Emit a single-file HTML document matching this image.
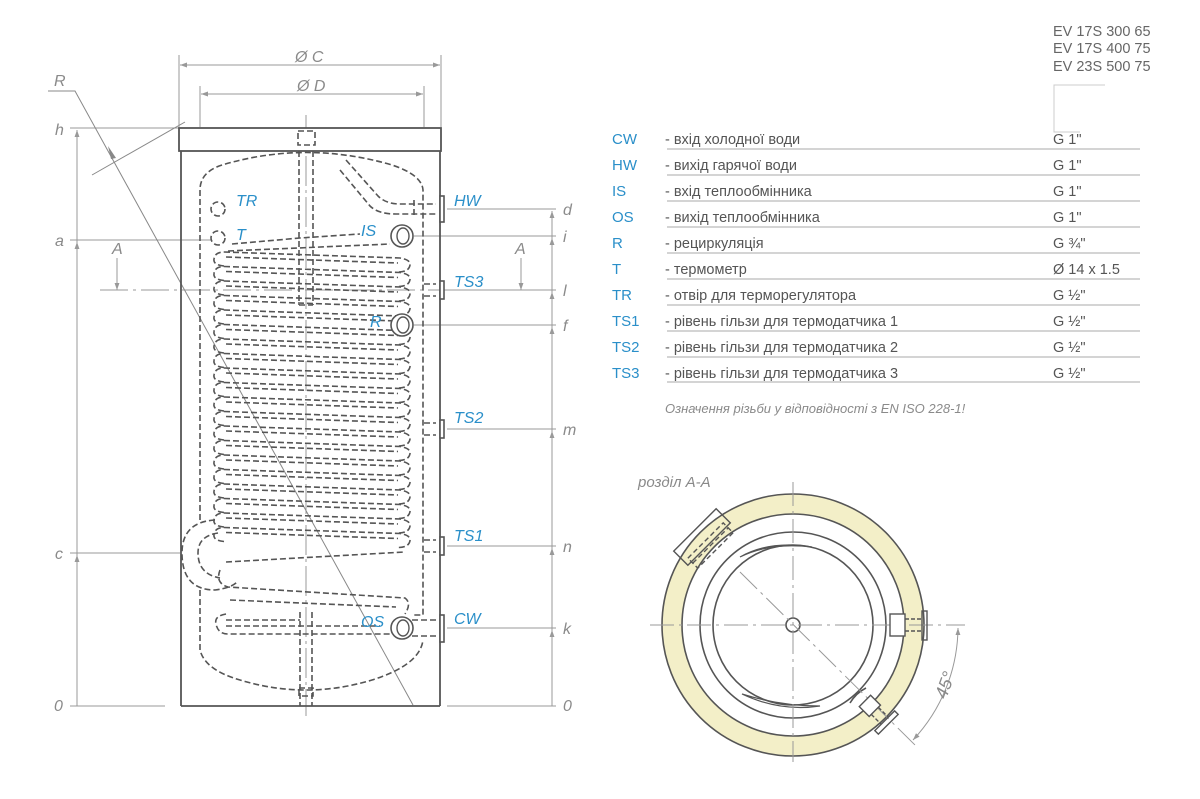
<!DOCTYPE html>
<html><head><meta charset="utf-8"><style>
html,body{margin:0;padding:0;background:#fff;}
svg{display:block;}
.it{font-family:"Liberation Sans",sans-serif;font-style:italic;fill:#8a8a8a;}
.bl{font-family:"Liberation Sans",sans-serif;font-style:italic;fill:#2a8fc9;font-size:16px;}
.tb{font-family:"Liberation Sans","DejaVu Sans",sans-serif;font-size:14.5px;fill:#555;}
.tl{font-family:"Liberation Sans",sans-serif;font-size:15px;fill:#2a8fc9;}
</style></head><body>
<svg width="1200" height="799" viewBox="0 0 1200 799" xmlns="http://www.w3.org/2000/svg">
<defs>
<marker id="ar" viewBox="0 0 10 10" refX="10" refY="5" markerWidth="11" markerHeight="7" orient="auto-start-reverse" markerUnits="userSpaceOnUse"><path d="M0,1.5 L10,5 L0,8.5z" fill="#999"/></marker>
<g id="turn" fill="none" stroke="#555" stroke-width="1.6" stroke-dasharray="6 3">
<path d="M224 0 L400 6 Q411 8 410 13 Q409 20 398 20"/>
<path d="M226 5 L398 11"/>
<path d="M224 14 Q213 13 214 7 Q215 0 224 0"/>
</g>
</defs>

<g stroke="#999" stroke-width="1" fill="none">
<line x1="179" y1="55" x2="179" y2="127"/><line x1="441" y1="55" x2="441" y2="127"/>
<line x1="200" y1="86" x2="200" y2="127"/><line x1="424" y1="86" x2="424" y2="127"/>
<line x1="180" y1="65" x2="440" y2="65" marker-start="url(#ar)" marker-end="url(#ar)"/>
<line x1="201" y1="94" x2="423" y2="94" marker-start="url(#ar)" marker-end="url(#ar)"/>
<line x1="70" y1="128" x2="179" y2="128"/>
<line x1="70" y1="240" x2="212" y2="240"/>
<line x1="70" y1="553" x2="180" y2="553"/>
<line x1="70" y1="706" x2="165" y2="706"/>
<line x1="77" y1="706" x2="77" y2="130" marker-end="url(#ar)"/>
<line x1="77" y1="706" x2="77" y2="242" marker-end="url(#ar)"/>
<line x1="77" y1="706" x2="77" y2="555" marker-end="url(#ar)"/>
<line x1="447" y1="209" x2="556" y2="209"/>
<line x1="414" y1="236" x2="556" y2="236"/>
<line x1="447" y1="290" x2="556" y2="290"/>
<line x1="414" y1="325" x2="556" y2="325"/>
<line x1="447" y1="429" x2="556" y2="429"/>
<line x1="447" y1="546" x2="556" y2="546"/>
<line x1="447" y1="628" x2="556" y2="628"/>
<line x1="447" y1="706" x2="556" y2="706"/>
<line x1="552" y1="706" x2="552" y2="211" marker-end="url(#ar)"/>
<line x1="552" y1="706" x2="552" y2="238" marker-end="url(#ar)"/>
<line x1="552" y1="706" x2="552" y2="292" marker-end="url(#ar)"/>
<line x1="552" y1="706" x2="552" y2="327" marker-end="url(#ar)"/>
<line x1="552" y1="706" x2="552" y2="431" marker-end="url(#ar)"/>
<line x1="552" y1="706" x2="552" y2="548" marker-end="url(#ar)"/>
<line x1="552" y1="706" x2="552" y2="630" marker-end="url(#ar)"/>
<line x1="100" y1="290" x2="530" y2="290" stroke-dasharray="28 5 3 5"/>
<line x1="117" y1="258" x2="117" y2="290" marker-end="url(#ar)"/>
<line x1="521" y1="258" x2="521" y2="290" marker-end="url(#ar)"/>
<line x1="306" y1="115" x2="306" y2="716" stroke-dasharray="30 4 3 4"/>
<polyline points="48,91 75,91 413,705" stroke="#888"/>
<line x1="92" y1="175" x2="185" y2="122" stroke="#888"/>
</g>
<path d="M108,146 L116,158 L111,159z" fill="#888"/>

<g stroke="#555" stroke-width="1.8" fill="none">
<rect x="179" y="128" width="262" height="23" fill="#fff"/>
<line x1="181" y1="151" x2="181" y2="706"/>
<line x1="440" y1="151" x2="440" y2="706"/>
<line x1="181" y1="706" x2="440" y2="706"/>
</g>
<g stroke="#555" stroke-width="1.6" fill="none" stroke-dasharray="6 3">
<path d="M200,520 L200,190 Q200,172 222,165 Q306,140 392,165 Q422,175 423,190 L423,615 L412,615"/>
<path d="M200,590 L200,650 Q205,670 240,680 Q306,700 372,680 Q420,665 423,640"/>
<rect x="298" y="131" width="17" height="14"/>
<line x1="299" y1="151" x2="299" y2="305"/><line x1="313" y1="151" x2="313" y2="305"/>
<line x1="299" y1="305" x2="313" y2="305"/>
<line x1="300" y1="612" x2="300" y2="706"/><line x1="312" y1="612" x2="312" y2="706"/>
<rect x="299" y="688" width="14" height="8"/>
<path d="M346,160 L378,196 Q386,204 400,204 L436,204"/>
<path d="M340,170 L370,206 Q378,214 396,214 L436,214"/>
<line x1="414" y1="200" x2="414" y2="218"/>
<path d="M424,284 L436,284 M424,296 L436,296"/>
<path d="M424,423 L436,423 M424,435 L436,435"/>
<path d="M424,540 L436,540 M424,552 L436,552"/>
<path d="M412,620 L436,620 M412,636 L436,636"/>
<circle cx="218" cy="209" r="7"/><circle cx="218" cy="238" r="7"/>
<path d="M232,244 L300,238 L360,234"/>
<path d="M228,251 L390,244"/>
<path d="M215,520 Q182,522 182,553 Q182,590 215,590 Q232,588 238,581"/>
<path d="M218,533 Q198,536 198,553 Q198,574 220,578"/>
<path d="M226,562 L405,552"/>
<path d="M220,570 Q215,583 228,587 L405,598 Q412,603 405,614"/>
<path d="M230,600 L396,607"/>
<path d="M226,614 Q214,616 216,624 Q218,634 228,634 L390,634"/>
<path d="M226,620 L300,620"/><path d="M226,626 L380,626"/>
</g>
<g>
<use href="#turn" y="252"/><use href="#turn" y="266.5"/><use href="#turn" y="281"/><use href="#turn" y="295.5"/>
<use href="#turn" y="310"/><use href="#turn" y="324.5"/><use href="#turn" y="339"/><use href="#turn" y="353.5"/>
<use href="#turn" y="368"/><use href="#turn" y="382.5"/><use href="#turn" y="397"/><use href="#turn" y="411.5"/>
<use href="#turn" y="426"/><use href="#turn" y="440.5"/><use href="#turn" y="455"/><use href="#turn" y="469.5"/>
<use href="#turn" y="484"/><use href="#turn" y="498.5"/><use href="#turn" y="513"/><use href="#turn" y="527.5"/>
</g>
<g stroke="#555" stroke-width="1.6" fill="#fff">
<rect x="440" y="196" width="4" height="26"/>
<rect x="440" y="281" width="4" height="18"/>
<rect x="440" y="420" width="4" height="18"/>
<rect x="440" y="537" width="4" height="18"/>
<rect x="440" y="615" width="4" height="27"/>
<circle cx="402" cy="236" r="11"/><circle cx="402" cy="325" r="11"/><circle cx="402" cy="628" r="11"/>
</g>
<g stroke="#555" stroke-width="1.4" fill="none">
<ellipse cx="403" cy="236" rx="6" ry="8"/><ellipse cx="403" cy="325" rx="6" ry="8"/><ellipse cx="403" cy="628" rx="6" ry="8"/>
</g>

<g class="it" font-size="16">
<text x="295" y="62">Ø C</text><text x="297" y="91">Ø D</text>
<text x="54" y="86">R</text><text x="55" y="135">h</text><text x="55" y="246">a</text><text x="55" y="559">c</text><text x="54" y="711">0</text>
<text x="112" y="254">A</text><text x="515" y="254">A</text>
<text x="563" y="215">d</text><text x="563" y="242">i</text><text x="563" y="296">l</text><text x="563" y="331">f</text>
<text x="563" y="435">m</text><text x="563" y="552">n</text><text x="563" y="634">k</text><text x="563" y="711">0</text>
</g>
<g class="bl">
<text x="236" y="206">TR</text><text x="236" y="240">T</text><text x="361" y="236">IS</text><text x="370" y="327">R</text>
<text x="361" y="627">OS</text><text x="454" y="206">HW</text><text x="454" y="287">TS3</text><text x="454" y="423">TS2</text>
<text x="454" y="541">TS1</text><text x="454" y="624">CW</text>
</g>

<g class="tb" font-size="13.5" style="fill:#666">
<text x="1053" y="36">EV 17S 300 65</text><text x="1053" y="53">EV 17S 400 75</text><text x="1053" y="71">EV 23S 500 75</text>
</g>
<polyline points="1105,85 1054,85 1054,132 1080,132" fill="none" stroke="#ccc" stroke-width="1"/>
<g stroke="#aaa" stroke-width="1">
<line x1="667" y1="149" x2="1140" y2="149"/><line x1="667" y1="175" x2="1140" y2="175"/>
<line x1="667" y1="201" x2="1140" y2="201"/><line x1="667" y1="227" x2="1140" y2="227"/>
<line x1="667" y1="253" x2="1140" y2="253"/><line x1="667" y1="279" x2="1140" y2="279"/>
<line x1="667" y1="305" x2="1140" y2="305"/><line x1="667" y1="331" x2="1140" y2="331"/>
<line x1="667" y1="357" x2="1140" y2="357"/><line x1="667" y1="382" x2="1140" y2="382"/>
</g>
<g class="tl">
<text x="612" y="144">CW</text><text x="612" y="170">HW</text><text x="612" y="196">IS</text><text x="612" y="222">OS</text>
<text x="612" y="248">R</text><text x="612" y="274">T</text><text x="612" y="300">TR</text><text x="612" y="326">TS1</text>
<text x="612" y="352">TS2</text><text x="612" y="378">TS3</text>
</g>
<g class="tb">
<text x="665" y="144">- вхід холодної води</text><text x="665" y="170">- вихід гарячої води</text>
<text x="665" y="196">- вхід теплообмінника</text><text x="665" y="222">- вихід теплообмінника</text>
<text x="665" y="248">- рециркуляція</text><text x="665" y="274">- термометр</text>
<text x="665" y="300">- отвір для терморегулятора</text><text x="665" y="326">- рівень гільзи для термодатчика 1</text>
<text x="665" y="352">- рівень гільзи для термодатчика 2</text><text x="665" y="378">- рівень гільзи для термодатчика 3</text>
<text x="1053" y="144">G 1"</text><text x="1053" y="170">G 1"</text><text x="1053" y="196">G 1"</text><text x="1053" y="222">G 1"</text>
<text x="1053" y="248">G ¾"</text><text x="1053" y="274">Ø 14 x 1.5</text><text x="1053" y="300">G ½"</text>
<text x="1053" y="326">G ½"</text><text x="1053" y="352">G ½"</text><text x="1053" y="378">G ½"</text>
</g>
<text x="665" y="413" class="it" font-size="13">Означення різьби у відповідності з EN ISO 228-1!</text>

<text x="638" y="487" class="it" font-size="15">розділ A-A</text>
<g stroke="#555" stroke-width="1.6">
<path fill="#f3efc8" fill-rule="evenodd" d="M662,625 a131,131 0 1,0 262,0 a131,131 0 1,0 -262,0z M682,625 a111,111 0 1,1 222,0 a111,111 0 1,1 -222,0z"/>
<circle cx="793" cy="625" r="93" fill="none"/>
<circle cx="793" cy="625" r="80" fill="none"/>
<circle cx="793" cy="625" r="7" fill="none"/>
<path d="M740,557 Q770,540 812,547 Q770,542 740,557z" fill="none" stroke-width="1.2"/>
<path d="M742,694 Q780,712 820,706 Q780,706 742,694z" fill="none" stroke-width="1.2"/>
<path d="M850,703 Q856,693 866,688" fill="none"/>
</g>
<g stroke="#999" stroke-width="1" fill="none">
<line x1="650" y1="625" x2="965" y2="625" stroke-dasharray="24 5 3 5"/>
<line x1="793" y1="482" x2="793" y2="762" stroke-dasharray="24 5 3 5"/>
<line x1="740" y1="572" x2="915" y2="745" stroke-dasharray="24 5 3 5"/>
<path d="M958,628 A166,166 0 0,1 913,740" marker-start="url(#ar)" marker-end="url(#ar)"/>
</g>
<text class="it" font-size="18" transform="translate(946,700) rotate(-70)">45°</text>
<g stroke="#555" stroke-width="1.4" fill="none">
<g transform="translate(702,537) rotate(-45)">
<rect x="-30" y="-10" width="60" height="20"/>
<rect x="-25" y="5" width="50" height="14" stroke-dasharray="5 3"/>
<line x1="-25" y1="12" x2="25" y2="12" stroke-dasharray="5 3"/>
</g>
<rect x="890" y="614" width="15" height="22" fill="#fff"/>
<rect x="922" y="611" width="5" height="29"/>
<line x1="905" y1="619" x2="922" y2="619" stroke-dasharray="4 2"/>
<line x1="905" y1="631" x2="922" y2="631" stroke-dasharray="4 2"/>
<g transform="translate(872,708) rotate(45)">
<rect x="-10" y="-8" width="14" height="16" fill="#fff"/>
<rect x="18" y="-14" width="5" height="28"/>
<line x1="4" y1="-5" x2="18" y2="-5" stroke-dasharray="4 2"/>
<line x1="4" y1="5" x2="18" y2="5" stroke-dasharray="4 2"/>
</g>
</g>
</svg>
</body></html>
